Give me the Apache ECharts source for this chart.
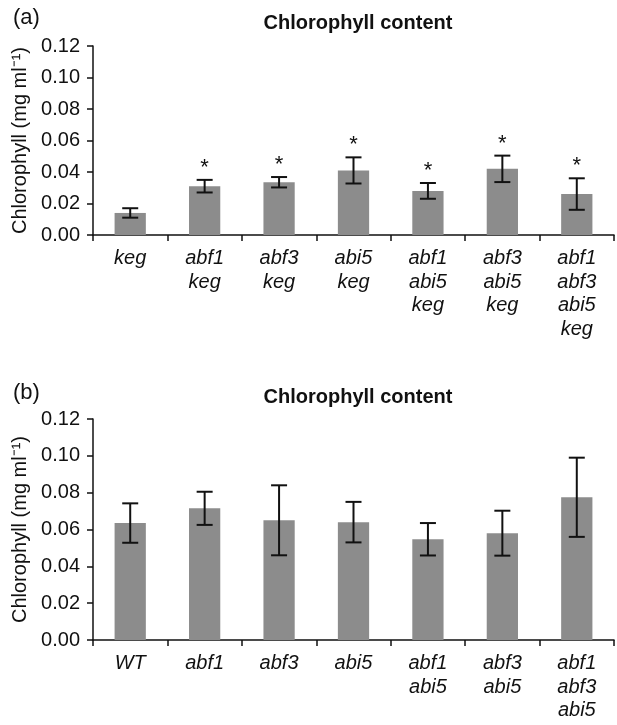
<!DOCTYPE html>
<html>
<head>
<meta charset="utf-8">
<script src="https://cdn.jsdelivr.net/npm/echarts@6/dist/echarts.min.js"></script>
<style>html,body{margin:0;padding:0;background:#fff}#c{width:617px;height:725px}</style>
</head>
<body>
<div id="c"></div>
<script>
// Panel (a)
const catsA = ['keg', 'abf1\nkeg', 'abf3\nkeg', 'abi5\nkeg', 'abf1\nabi5\nkeg', 'abf3\nabi5\nkeg', 'abf1\nabf3\nabi5\nkeg'];
const meanA = [0.014, 0.031, 0.0335, 0.041, 0.028, 0.042, 0.026];
const errA = [0.003, 0.004, 0.0033, 0.0083, 0.005, 0.0084, 0.010];
const sigA = ['', '*', '*', '*', '*', '*', '*'];
// Panel (b)
const catsB = ['WT', 'abf1', 'abf3', 'abi5', 'abf1\nabi5', 'abf3\nabi5', 'abf1\nabf3\nabi5'];
const meanB = [0.0635, 0.0715, 0.065, 0.064, 0.0547, 0.058, 0.0775];
const errB = [0.0107, 0.009, 0.019, 0.011, 0.0088, 0.0122, 0.0215];
const yTicks = [0, 0.02, 0.04, 0.06, 0.08, 0.10, 0.12];

const FONT = 'Liberation Sans, Arial, Helvetica, sans-serif';
const chart = echarts.init(document.getElementById('c'), null, {renderer: 'canvas'});

function errData(means, errs) {
  return means.map((m, i) => [i, m, errs[i]]);
}
function renderErr(params, api) {
  const i = api.value(0), m = api.value(1), e = api.value(2);
  const top = api.coord([i, m + e]);
  const bot = api.coord([i, m - e]);
  const cap = 8;
  const st = {stroke: '#111', lineWidth: 2};
  return {type: 'group', children: [
    {type: 'line', shape: {x1: top[0], y1: top[1], x2: bot[0], y2: bot[1]}, style: st},
    {type: 'line', shape: {x1: top[0] - cap, y1: top[1], x2: top[0] + cap, y2: top[1]}, style: st},
    {type: 'line', shape: {x1: bot[0] - cap, y1: bot[1], x2: bot[0] + cap, y2: bot[1]}, style: st}
  ]};
}
function renderSig(src) {
  return function (params, api) {
    const i = api.value(0), m = api.value(1), e = api.value(2);
    const top = api.coord([i, m + e]);
    return {type: 'text', x: top[0], y: top[1] - 1,
      style: {text: src[i], fill: '#111', font: '22px ' + FONT, align: 'center', verticalAlign: 'bottom'}};
  };
}

function xAxis(cats, gi) {
  return {
    type: 'category', data: cats, gridIndex: gi,
    axisLine: {lineStyle: {color: '#111', width: 1.5}},
    axisTick: {show: true, length: 6, lineStyle: {color: '#111', width: 1.5}, alignWithLabel: false},
    axisLabel: {color: '#111', fontSize: 20, fontStyle: 'italic', fontFamily: FONT, lineHeight: 23.5, margin: 12, interval: 0}
  };
}
function yAxis(gi) {
  return {
    type: 'value', gridIndex: gi, min: yTicks[0], max: yTicks[yTicks.length - 1], interval: yTicks[1] - yTicks[0],
    name: 'Chlorophyll (mg ml\u207B\u00B9)', nameLocation: 'middle', nameGap: 62,
    nameTextStyle: {color: '#111', fontSize: 20, fontFamily: FONT},
    axisLine: {show: true, lineStyle: {color: '#111', width: 1.5}},
    axisTick: {show: true, length: 6, lineStyle: {color: '#111', width: 1.5}},
    splitLine: {show: false},
    axisLabel: {color: '#111', fontSize: 20, fontFamily: FONT, margin: 13, formatter: v => v.toFixed(2)}
  };
}

chart.setOption({
  animation: false,
  backgroundColor: '#fff',
  title: [
    {text: '(a)', left: 8, top: 2, textStyle: {fontSize: 22, fontWeight: 'normal', color: '#111', fontFamily: FONT}},
    {text: 'Chlorophyll content', left: 353, top: 8, textAlign: 'center', textStyle: {fontSize: 20, fontWeight: 'bold', color: '#111', fontFamily: FONT}},
    {text: '(b)', left: 8, top: 377, textStyle: {fontSize: 22, fontWeight: 'normal', color: '#111', fontFamily: FONT}},
    {text: 'Chlorophyll content', left: 353, top: 382, textAlign: 'center', textStyle: {fontSize: 20, fontWeight: 'bold', color: '#111', fontFamily: FONT}}
  ],
  grid: [
    {left: 93, right: 3, top: 46, height: 189},
    {left: 93, right: 3, top: 419, height: 221}
  ],
  xAxis: [xAxis(catsA, 0), xAxis(catsB, 1)],
  yAxis: [yAxis(0), yAxis(1)],
  series: [
    {type: 'bar', xAxisIndex: 0, yAxisIndex: 0, data: meanA, barWidth: '42%', itemStyle: {color: '#8c8c8c'}},
    {type: 'custom', xAxisIndex: 0, yAxisIndex: 0, data: errData(meanA, errA), renderItem: renderErr, z: 5},
    {type: 'custom', xAxisIndex: 0, yAxisIndex: 0, data: errData(meanA, errA), renderItem: renderSig(sigA), z: 5},
    {type: 'bar', xAxisIndex: 1, yAxisIndex: 1, data: meanB, barWidth: '42%', itemStyle: {color: '#8c8c8c'}},
    {type: 'custom', xAxisIndex: 1, yAxisIndex: 1, data: errData(meanB, errB), renderItem: renderErr, z: 5}
  ]
});
</script>
</body>
</html>
